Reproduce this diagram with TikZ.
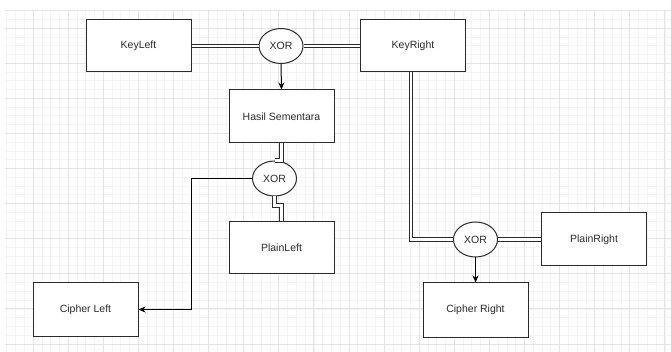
\documentclass[tikz,border=0pt]{standalone}
\usepackage{fontspec}
\setmainfont{Liberation Sans}
\usetikzlibrary{shapes.geometric,arrows.meta}
\definecolor{ink}{HTML}{2B2B2B}
\definecolor{gridminor}{HTML}{F4F4F4}
\definecolor{gridmajor}{HTML}{E4E4E4}
\tikzset{
  box/.style={draw=ink, line width=1pt, fill=white, rectangle,
    minimum width=105pt, minimum height=52pt, inner sep=0pt,
    font=\fontsize{10.5}{12}\selectfont, text=ink},
  xorop/.style={draw=ink, line width=1pt, fill=white, ellipse,
    minimum width=44pt, minimum height=35pt, inner sep=0pt,
    font=\fontsize{10.5}{12}\selectfont, text=ink},
  link/.style={draw=ink, line width=0.9pt, double=white, double distance=2.4pt},
  flow/.style={draw=black, line width=1pt, -{Stealth[length=7pt,width=6pt]}},
}
\begin{document}
\begin{tikzpicture}[x=1pt, y=-1pt]
  \useasboundingbox (0,0) rectangle (671,352);
  \fill[white] (0,0) rectangle (671,352);
  % background grid
  \foreach \k in {0,...,76} {
    \pgfmathsetmacro{\gx}{6.7+8.775*\k}
    \draw[gridminor, line width=0.6pt] (\gx,10) -- (\gx,352);
  }
  \foreach \k in {0,...,38} {
    \pgfmathsetmacro{\gy}{10.5+8.775*\k}
    \draw[gridminor, line width=0.6pt] (5,\gy) -- (671,\gy);
  }
  \foreach \k in {0,...,18} {
    \pgfmathsetmacro{\gx}{33+35.1*\k}
    \draw[gridmajor, line width=0.8pt] (\gx,10) -- (\gx,352);
  }
  \foreach \k in {0,...,9} {
    \pgfmathsetmacro{\gy}{28+35.1*\k}
    \draw[gridmajor, line width=0.8pt] (5,\gy) -- (671,\gy);
  }
  \draw[gridmajor, line width=0.8pt] (5,10) -- (671,10);

  % blocks
  \node[box] (kl) at (138.5,46) {KeyLeft};
  \node[box] (kr) at (413,46) {KeyRight};
  \node[xorop] (x1) at (281,46) {XOR};
  \node[box, minimum height=53pt] (hs) at (281.5,116.5) {Hasil Sementara};
  \node[xorop] (x2) at (274.5,178.5) {XOR};
  \node[box] (pl) at (281.5,248) {PlainLeft};
  \node[box, minimum height=53pt] (cl) at (85.5,309.5) {Cipher Left};
  \node[xorop] (x3) at (475.5,239.5) {XOR};
  \node[box, minimum height=53pt] (pr) at (594,239.5) {PlainRight};
  \node[box, minimum height=54pt] (cr) at (475.5,310) {Cipher Right};

  % connectors
  \draw[link] (kl.east) -- (x1.west);
  \draw[link] (x1.east) -- (kr.west);
  \draw[flow] (x1.south) -- (hs.north);
  \draw[link] (hs.south) -- ++(0,17) -| (x2.north);
  \draw[link] (x2.south) -- ++(0,9) -| (pl.north);
  \coordinate (bend) at (191,178.5);
  \draw[flow] (x2.west) -- (bend) |- (cl.east);
  \draw[link] ([xshift=-2pt]kr.south) |- (x3.west);
  \draw[link] (x3.east) -- (pr.west);
  \draw[flow] (x3.south) -- (cr.north);
\end{tikzpicture}
\end{document}
